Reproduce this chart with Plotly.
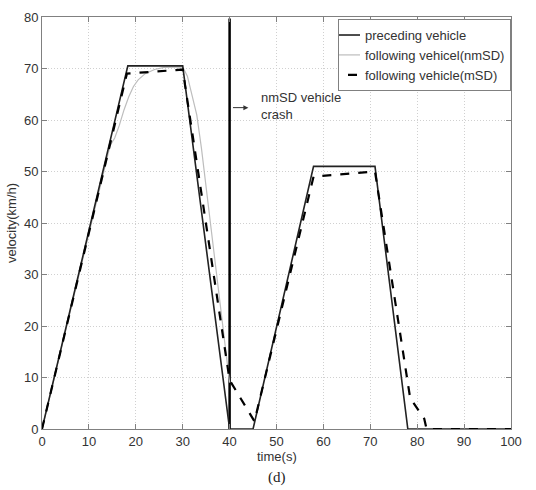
import plotly.graph_objects as go

# preceding vehicle
pre_t = [0, 18.3, 30, 40, 45, 57.9, 71, 78, 100]
pre_v = [0, 70.5, 70.5, 0, 0, 51, 51, 0, 0]

# following vehicle (nmSD) - crashes at t=40
nm_t = [0, 14.5, 15.5, 16.5, 17.5, 18.5, 19.5, 20.5, 22, 24, 26, 30, 31, 32, 33, 34, 35, 36, 37, 38, 39, 40]
nm_v = [0, 55, 56.5, 59, 62, 64.5, 66.5, 67.8, 69, 69.8, 70.2, 70.3, 68.5, 65, 61, 54.5, 47, 39, 31, 24, 16, 9]

# following vehicle (mSD)
m_t = [0, 18.1, 30, 40, 45.3, 57.9, 71, 78.5, 80, 81.5, 82, 100]
m_v = [0, 69.0, 69.8, 9.5, 1.5, 49.0, 50.0, 6.0, 4.0, 2.0, 0, 0]

# crash marker
crash_t = [40, 40]
crash_v = [0, 79.7]

x_ticks = [0, 10, 20, 30, 40, 50, 60, 70, 80, 90, 100]
y_ticks = [0, 10, 20, 30, 40, 50, 60, 70, 80]

FONT = "Liberation Sans, Arial"

fig = go.Figure()
fig.add_trace(go.Scatter(x=crash_t, y=crash_v, mode="lines",
                         line=dict(color="black", width=2.5), showlegend=False, hoverinfo="skip"))
fig.add_trace(go.Scatter(x=nm_t, y=nm_v, mode="lines", name="following vehicel(nmSD)",
                         line=dict(color="#bdbdbd", width=1.2), legendrank=2))
fig.add_trace(go.Scatter(x=pre_t, y=pre_v, mode="lines", name="preceding vehicle",
                         line=dict(color="#222222", width=1.6), legendrank=1))
fig.add_trace(go.Scatter(x=m_t, y=m_v, mode="lines", name="following vehicle(mSD)",
                         line=dict(color="black", width=2.2, dash="dash"), legendrank=3))

axis_common = dict(
    showgrid=True, gridcolor="#d0d0d0", griddash="1px,2px", gridwidth=1,
    showline=True, linecolor="#808080", linewidth=1, mirror="ticks",
    ticks="inside", ticklen=5, tickcolor="#808080", zeroline=False,
    tickfont=dict(family=FONT, size=13, color="#333333"),
)

fig.update_xaxes(range=[0, 100], tickvals=x_ticks, ticktext=[str(v) for v in x_ticks],
                 **axis_common)
fig.update_yaxes(range=[0, 80], tickvals=y_ticks, ticktext=[str(v) for v in y_ticks],
                 title=dict(text="velocity(km/h)", standoff=4,
                            font=dict(family=FONT, size=13, color="#333333")),
                 **axis_common)

fig.add_annotation(x=0.5, y=-0.043, xref="paper", yref="paper", yanchor="top",
                   text="time(s)", showarrow=False,
                   font=dict(family=FONT, size=13, color="#333333"))
fig.add_annotation(x=44, y=62.4, ax=40.4, ay=62.4, xref="x", yref="y", axref="x", ayref="y",
                   text="", showarrow=True, arrowhead=2, arrowsize=1, arrowwidth=1, arrowcolor="#333333")
fig.add_annotation(x=46.3, y=62.8, xref="x", yref="y", text="nmSD vehicle<br>crash",
                   showarrow=False, xanchor="left", yanchor="middle", align="left",
                   font=dict(family=FONT, size=13, color="#333333"))
fig.add_annotation(x=0.5, y=-0.117, xref="paper", yref="paper", yanchor="middle",
                   text="(d)", showarrow=False,
                   font=dict(family="Liberation Serif, Times New Roman", size=15, color="#222222"))

fig.update_layout(
    width=536, height=490,
    margin=dict(l=42, r=25, t=10, b=61),
    paper_bgcolor="white", plot_bgcolor="white",
    legend=dict(x=1, xanchor="right", y=0.995, yanchor="top", bgcolor="white",
                bordercolor="#808080", borderwidth=1, tracegroupgap=0,
                font=dict(family=FONT, size=13, color="#333333"),
                itemwidth=30, indentation=-14),
    showlegend=True,
)

fig.write_html("out.html")
